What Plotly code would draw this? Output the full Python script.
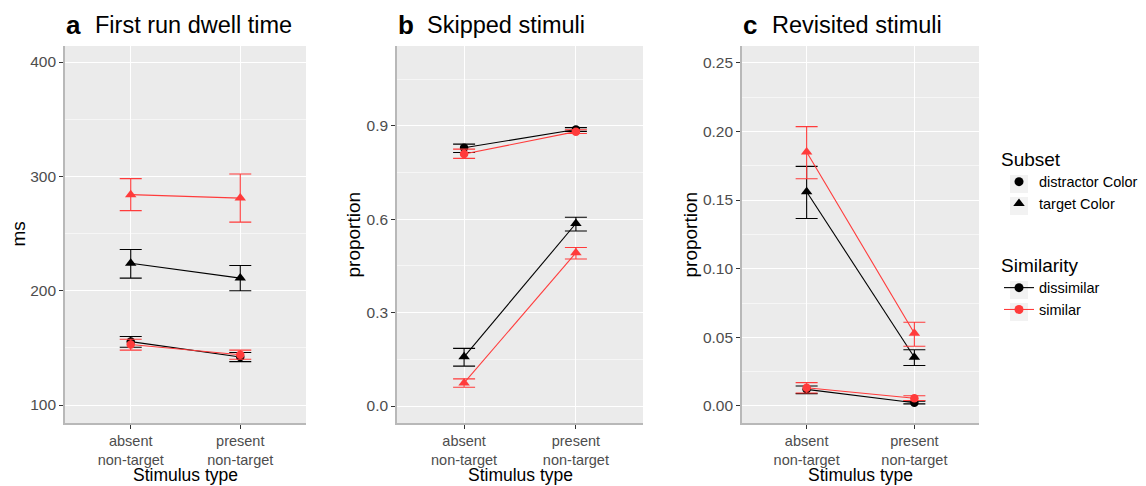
import plotly.graph_objects as go

# ---------------- data ----------------
categories = ["absent<br>non-target", "present<br>non-target"]

# Panel a: First run dwell time (ms)
dwell_distractor_dissimilar = [155.5, 142.0]
dwell_distractor_dissimilar_lo = [150.5, 138.0]
dwell_distractor_dissimilar_hi = [160.0, 146.0]
dwell_distractor_similar = [153.0, 144.0]
dwell_distractor_similar_lo = [148.0, 140.0]
dwell_distractor_similar_hi = [157.5, 148.0]
dwell_target_dissimilar = [224.0, 211.0]
dwell_target_dissimilar_lo = [211.0, 200.0]
dwell_target_dissimilar_hi = [236.0, 222.0]
dwell_target_similar = [284.0, 281.0]
dwell_target_similar_lo = [270.0, 260.0]
dwell_target_similar_hi = [298.0, 302.0]

# Panel b: Skipped stimuli (proportion)
skip_distractor_dissimilar = [0.829, 0.888]
skip_distractor_dissimilar_lo = [0.814, 0.882]
skip_distractor_dissimilar_hi = [0.841, 0.894]
skip_distractor_similar = [0.809, 0.881]
skip_distractor_similar_lo = [0.795, 0.875]
skip_distractor_similar_hi = [0.825, 0.887]
skip_target_dissimilar = [0.158, 0.586]
skip_target_dissimilar_lo = [0.128, 0.562]
skip_target_dissimilar_hi = [0.185, 0.606]
skip_target_similar = [0.074, 0.492]
skip_target_similar_lo = [0.060, 0.472]
skip_target_similar_hi = [0.087, 0.509]

# Panel c: Revisited stimuli (proportion)
rev_distractor_dissimilar = [0.0121, 0.0024]
rev_distractor_dissimilar_lo = [0.0090, 0.0015]
rev_distractor_dissimilar_hi = [0.0145, 0.0035]
rev_distractor_similar = [0.0133, 0.0056]
rev_distractor_similar_lo = [0.0095, 0.0040]
rev_distractor_similar_hi = [0.0170, 0.0075]
rev_target_dissimilar = [0.156, 0.0355]
rev_target_dissimilar_lo = [0.1365, 0.0295]
rev_target_dissimilar_hi = [0.1745, 0.0410]
rev_target_similar = [0.185, 0.053]
rev_target_similar_lo = [0.1655, 0.0435]
rev_target_similar_hi = [0.2035, 0.0610]

panel_letters = ["a", "b", "c"]
panel_titles = ["First run dwell time", "Skipped stimuli", "Revisited stimuli"]
y_titles = ["ms", "proportion", "proportion"]
x_title = "Stimulus type"
subset_names = ["distractor Color", "target Color"]
similarity_names = ["dissimilar", "similar"]

# ---------------- style ----------------
W, H = 1146, 486
BLACK = "#000000"
RED = "#FF3B3B"
PANEL_BG = "#EBEBEB"
FONT = "Liberation Sans, Arial, Helvetica, sans-serif"
TICK_COL = "#4D4D4D"

# plot areas in pixels (left, right), shared top/bottom
px_x = [(65, 306), (397, 643), (742, 979)]
px_top, px_bot = 46, 423
ydom = [(H - px_bot) / H, (H - px_top) / H]
ytitle_x = [18, 353, 690]

fig = go.Figure()

panels = [
    [
        ("distractor", "dissimilar", dwell_distractor_dissimilar, dwell_distractor_dissimilar_lo, dwell_distractor_dissimilar_hi),
        ("distractor", "similar", dwell_distractor_similar, dwell_distractor_similar_lo, dwell_distractor_similar_hi),
        ("target", "dissimilar", dwell_target_dissimilar, dwell_target_dissimilar_lo, dwell_target_dissimilar_hi),
        ("target", "similar", dwell_target_similar, dwell_target_similar_lo, dwell_target_similar_hi),
    ],
    [
        ("distractor", "dissimilar", skip_distractor_dissimilar, skip_distractor_dissimilar_lo, skip_distractor_dissimilar_hi),
        ("distractor", "similar", skip_distractor_similar, skip_distractor_similar_lo, skip_distractor_similar_hi),
        ("target", "dissimilar", skip_target_dissimilar, skip_target_dissimilar_lo, skip_target_dissimilar_hi),
        ("target", "similar", skip_target_similar, skip_target_similar_lo, skip_target_similar_hi),
    ],
    [
        ("distractor", "dissimilar", rev_distractor_dissimilar, rev_distractor_dissimilar_lo, rev_distractor_dissimilar_hi),
        ("distractor", "similar", rev_distractor_similar, rev_distractor_similar_lo, rev_distractor_similar_hi),
        ("target", "dissimilar", rev_target_dissimilar, rev_target_dissimilar_lo, rev_target_dissimilar_hi),
        ("target", "similar", rev_target_similar, rev_target_similar_lo, rev_target_similar_hi),
    ],
]

y_ranges = [[84.3, 414.0], [-0.0546, 1.156], [-0.0124, 0.2622]]
y_ticks = [[100, 200, 300, 400], [0.0, 0.3, 0.6, 0.9], [0.0, 0.05, 0.10, 0.15, 0.20, 0.25]]
y_ticktext = [["100", "200", "300", "400"], ["0.0", "0.3", "0.6", "0.9"],
              ["0.00", "0.05", "0.10", "0.15", "0.20", "0.25"]]
y_minor = [50, 0.15, 0.025]

for i, series in enumerate(panels):
    xa = "x" if i == 0 else f"x{i+1}"
    ya = "y" if i == 0 else f"y{i+1}"
    for subset, sim, vals, lo, hi in series:
        col = BLACK if sim == "dissimilar" else RED
        sym = "circle" if subset == "distractor" else "triangle-up"
        size = 8.5 if subset == "distractor" else 10
        fig.add_trace(go.Scatter(
            x=categories, y=vals, xaxis=xa, yaxis=ya,
            mode="lines+markers",
            line=dict(color=col, width=1.1),
            marker=dict(color=col, symbol=sym, size=size),
            error_y=dict(type="data", symmetric=False,
                         array=[h - v for h, v in zip(hi, vals)],
                         arrayminus=[v - l for v, l in zip(vals, lo)],
                         color=col, thickness=1.1, width=11),
            showlegend=False, hoverinfo="skip",
        ))

# axes
for i in range(3):
    sx = "" if i == 0 else str(i + 1)
    l, r = px_x[i]
    fig.layout[f"xaxis{sx}"] = dict(
        domain=[l / W, r / W], anchor=f"y{sx}", automargin=False,
        type="category", range=[-0.6, 1.6],
        showgrid=True, gridcolor="white", gridwidth=1.3,
        showline=True, linecolor="#B8B8B8", linewidth=1.6,
        ticks="outside", ticklen=4, tickcolor="#333333", tickwidth=1.3,
        tickfont=dict(family=FONT, size=14.5, color=TICK_COL),
        zeroline=False, fixedrange=True,
    )
    fig.layout[f"yaxis{sx}"] = dict(
        domain=ydom, anchor=f"x{sx}", automargin=False,
        range=y_ranges[i],
        tickmode="array", tickvals=y_ticks[i], ticktext=y_ticktext[i],
        showgrid=True, gridcolor="white", gridwidth=1.3,
        minor=dict(dtick=y_minor[i], tick0=0, showgrid=True, gridcolor="#F6F6F6", gridwidth=0.7, ticks=""),
        showline=True, linecolor="#B8B8B8", linewidth=1.6,
        ticks="outside", ticklen=4, tickcolor="#333333", tickwidth=1.3,
        tickfont=dict(family=FONT, size=15.5, color=TICK_COL),
        zeroline=False, fixedrange=True,
    )

shapes = []
annotations = []
for i in range(3):
    l, r = px_x[i]
    shapes.append(dict(type="rect", xref="paper", yref="paper", layer="below",
                       x0=l / W, x1=r / W, y0=ydom[0], y1=ydom[1],
                       fillcolor=PANEL_BG, line=dict(width=0)))
    annotations.append(dict(text=f"<b>{panel_letters[i]}</b>", xref="paper", yref="paper",
                            x=(l - 1) / W, y=(H - 25) / H, xanchor="left", yanchor="middle",
                            showarrow=False, font=dict(family=FONT, size=26, color="black")))
    annotations.append(dict(text=panel_titles[i], xref="paper", yref="paper",
                            x=(l + 28) / W, y=(H - 25) / H, xanchor="left", yanchor="middle",
                            showarrow=False, font=dict(family=FONT, size=23.5, color="black")))
    # axis titles
    annotations.append(dict(text=x_title, xref="paper", yref="paper", borderpad=0,
                            x=((l + r) / 2) / W, y=0, xanchor="center", yanchor="bottom",
                            showarrow=False, font=dict(family=FONT, size=17.5, color="black")))
    annotations.append(dict(text=y_titles[i], xref="paper", yref="paper", textangle=-90,
                            x=ytitle_x[i] / W, y=(H - (px_top + px_bot) / 2) / H,
                            xanchor="center", yanchor="middle",
                            showarrow=False, font=dict(family=FONT, size=19, color="black")))

# legend key backgrounds
for yc in [184, 206, 290, 312]:
    shapes.append(dict(type="rect", xref="paper", yref="paper", layer="below",
                       x0=1010 / W, x1=1028 / W, y0=(H - yc - 9) / H, y1=(H - yc + 9) / H,
                       fillcolor="#F2F2F2", line=dict(width=0)))

# legend traces (dummy points for keys)
for name, sym in zip(subset_names, ["circle", "triangle-up"]):
    fig.add_trace(go.Scatter(x=[None], y=[None], mode="markers", name=name,
                             marker=dict(color=BLACK, symbol=sym, size=9 if sym == "circle" else 10),
                             legend="legend", showlegend=True))
for name, col in zip(similarity_names, [BLACK, RED]):
    fig.add_trace(go.Scatter(x=[None], y=[None], mode="lines+markers", name=name,
                             line=dict(color=col, width=1.1),
                             marker=dict(color=col, symbol="circle", size=9),
                             legend="legend2", showlegend=True))

leg_common = dict(bgcolor="rgba(0,0,0,0)", borderwidth=0,
                  font=dict(family=FONT, size=14.5, color="black"),
                  xanchor="left", yanchor="top", tracegroupgap=0, itemwidth=30)
fig.update_layout(
    width=W, height=H,
    margin=dict(l=0, r=0, t=0, b=0),
    paper_bgcolor="white", plot_bgcolor=PANEL_BG,
    font=dict(family=FONT),
    shapes=shapes, annotations=annotations,
    legend=dict(x=999 / W, y=(H - 141) / H,
                title=dict(text="Subset", font=dict(family=FONT, size=19, color="black")),
                **leg_common),
    legend2=dict(x=999 / W, y=(H - 247) / H,
                 title=dict(text="Similarity", font=dict(family=FONT, size=19, color="black")),
                 **leg_common),
)

fig.write_html("out.html", config={"displayModeBar": False},
               post_script="document.body.style.margin='0';")
